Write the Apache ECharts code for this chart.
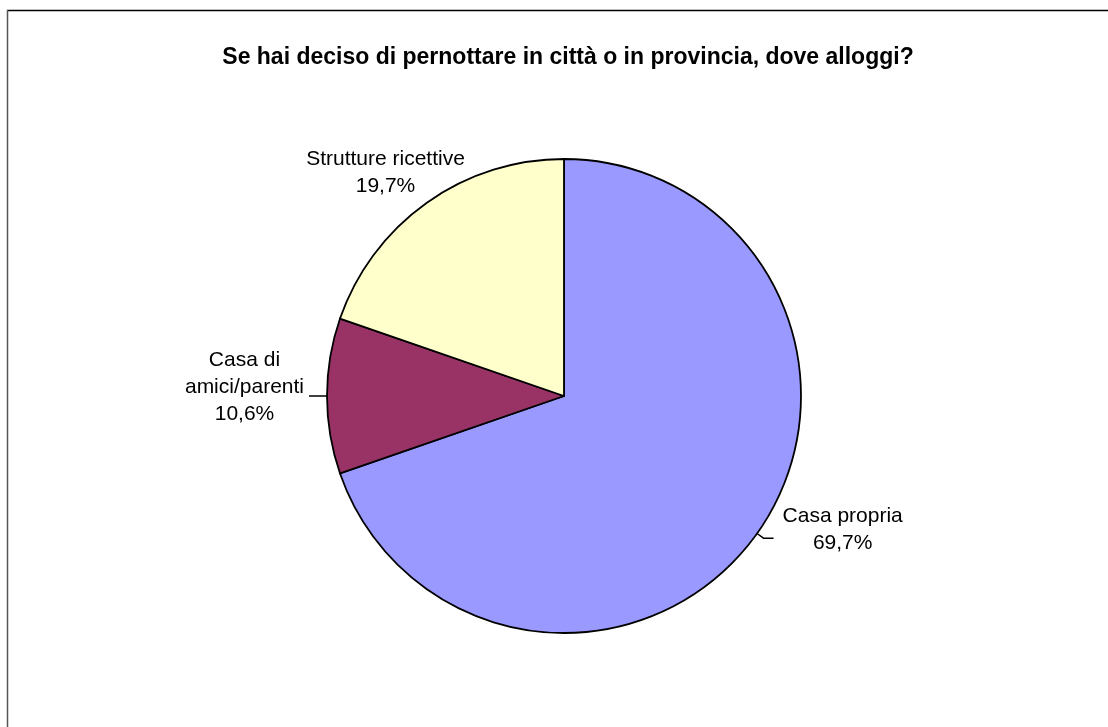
<!DOCTYPE html>
<html>
<head>
<meta charset="utf-8">
<script src="https://cdn.jsdelivr.net/npm/echarts@6/dist/echarts.min.js"></script>
<style>
html,body{margin:0;padding:0;background:#fff;}
#chart{width:1108px;height:727px;}
</style>
</head>
<body>
<div id="chart"></div>
<script>
const titleText = 'Se hai deciso di pernottare in città o in provincia, dove alloggi?';
const categories = ['Casa propria', 'Casa di\namici/parenti', 'Strutture ricettive'];
const values = [69.7, 10.6, 19.7];
const colors = ['#9999FF', '#993366', '#FFFFCC'];

const chart = echarts.init(document.getElementById('chart'), null, {renderer: 'canvas'});

function fmt(p) {
  const lines = p.name.split('\n');
  lines.push(p.value.toFixed(1).replace('.', ',') + '%');
  return lines.map(l => '{a|' + l + '}').join('\n');
}

const labelPads = [[0, 0, 17, 4], [0, 0, 18, 0], [0, 0, 0, 0]];
const data = categories.map((c, i) => ({
  name: c,
  value: values[i],
  itemStyle: {color: colors[i]},
  label: {padding: labelPads[i]},
  labelLine: {show: i !== 2}
}));

chart.setOption({
  backgroundColor: '#ffffff',
  animation: false,
  title: {
    text: titleText,
    left: 563,
    top: 41,
    textAlign: 'center',
    textStyle: {fontFamily: 'Liberation Sans, Arial', fontWeight: 'bold', fontSize: 23, color: '#000'}
  },
  graphic: [
    {type: 'line', shape: {x1: 7, y1: 10.5, x2: 1108, y2: 10.5}, style: {stroke: '#000', lineWidth: 1.5}},
    {type: 'line', shape: {x1: 7.5, y1: 10, x2: 7.5, y2: 727}, style: {stroke: '#555', lineWidth: 1.5}}
  ],
  series: [{
    type: 'pie',
    center: [564, 396],
    radius: 237,
    startAngle: 90,
    clockwise: true,
    avoidLabelOverlap: false,
    itemStyle: {borderColor: '#000', borderWidth: 1.8},
    emphasis: {disabled: true},
    label: {
      show: true,
      position: 'outside',
      formatter: fmt,
      color: '#000',
      fontFamily: 'Liberation Sans, Arial',
      fontSize: 21,
      lineHeight: 27,
      rich: {a: {align: 'center', fontSize: 21, lineHeight: 27, fontFamily: 'Liberation Sans, Arial', color: '#000'}}
    },
    labelLine: {show: true, length: 8, length2: 10, lineStyle: {color: '#000', width: 1.5}},
    labelLayout: function (params) {
      if (params.dataIndex === 2) return {dx: 58, dy: -24};
      return {};
    },
    data: data
  }]
});
</script>
</body>
</html>
